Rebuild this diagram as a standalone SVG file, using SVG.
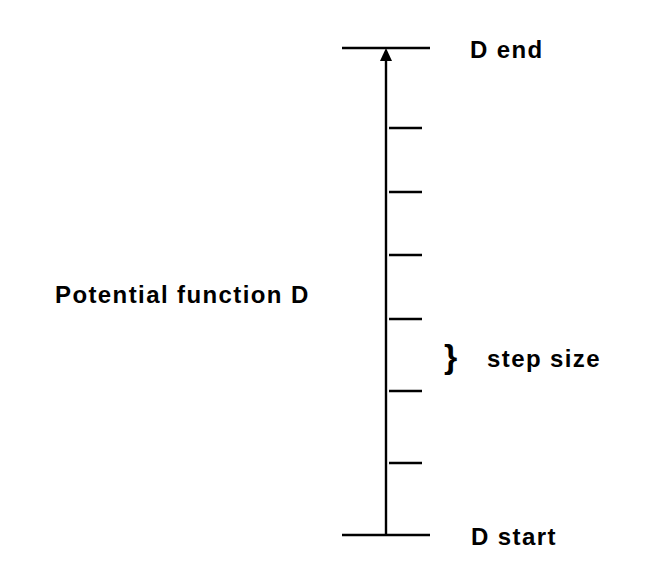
<svg xmlns="http://www.w3.org/2000/svg" width="656" height="584" viewBox="0 0 656 584">
<style>
.l{stroke:#000;stroke-width:2.4;fill:none}
.t{font-family:"Liberation Sans",Arial,sans-serif;font-weight:bold;font-size:24px;letter-spacing:1.4px;fill:#000}
</style>
<rect width="656" height="584" fill="#fff"/>
<g id="connectors">
<line class="l" x1="386" y1="535" x2="386" y2="55"/>
<path d="M380,61 L386,48 L392,61 Z" fill="#000"/>
</g>
<g id="end"><line class="l" x1="342" y1="48" x2="430" y2="48"/><text class="t" x="470" y="58">D end</text></g>
<g id="start"><line class="l" x1="342" y1="535" x2="430" y2="535"/><text class="t" x="471" y="545">D start</text></g>
<g id="ticks">
<line class="l" x1="389" y1="128" x2="422" y2="128"/>
<line class="l" x1="389" y1="192" x2="422" y2="192"/>
<line class="l" x1="389" y1="255" x2="422" y2="255"/>
<line class="l" x1="389" y1="319" x2="422" y2="319"/>
<line class="l" x1="389" y1="391" x2="422" y2="391"/>
<line class="l" x1="389" y1="463" x2="422" y2="463"/>
</g>
<g id="label"><text class="t" x="55" y="303">Potential function D</text></g>
<g id="step"><text class="t" x="444" y="368" style="font-size:34px;letter-spacing:0">}</text><text class="t" x="487" y="367">step size</text></g>
</svg>
